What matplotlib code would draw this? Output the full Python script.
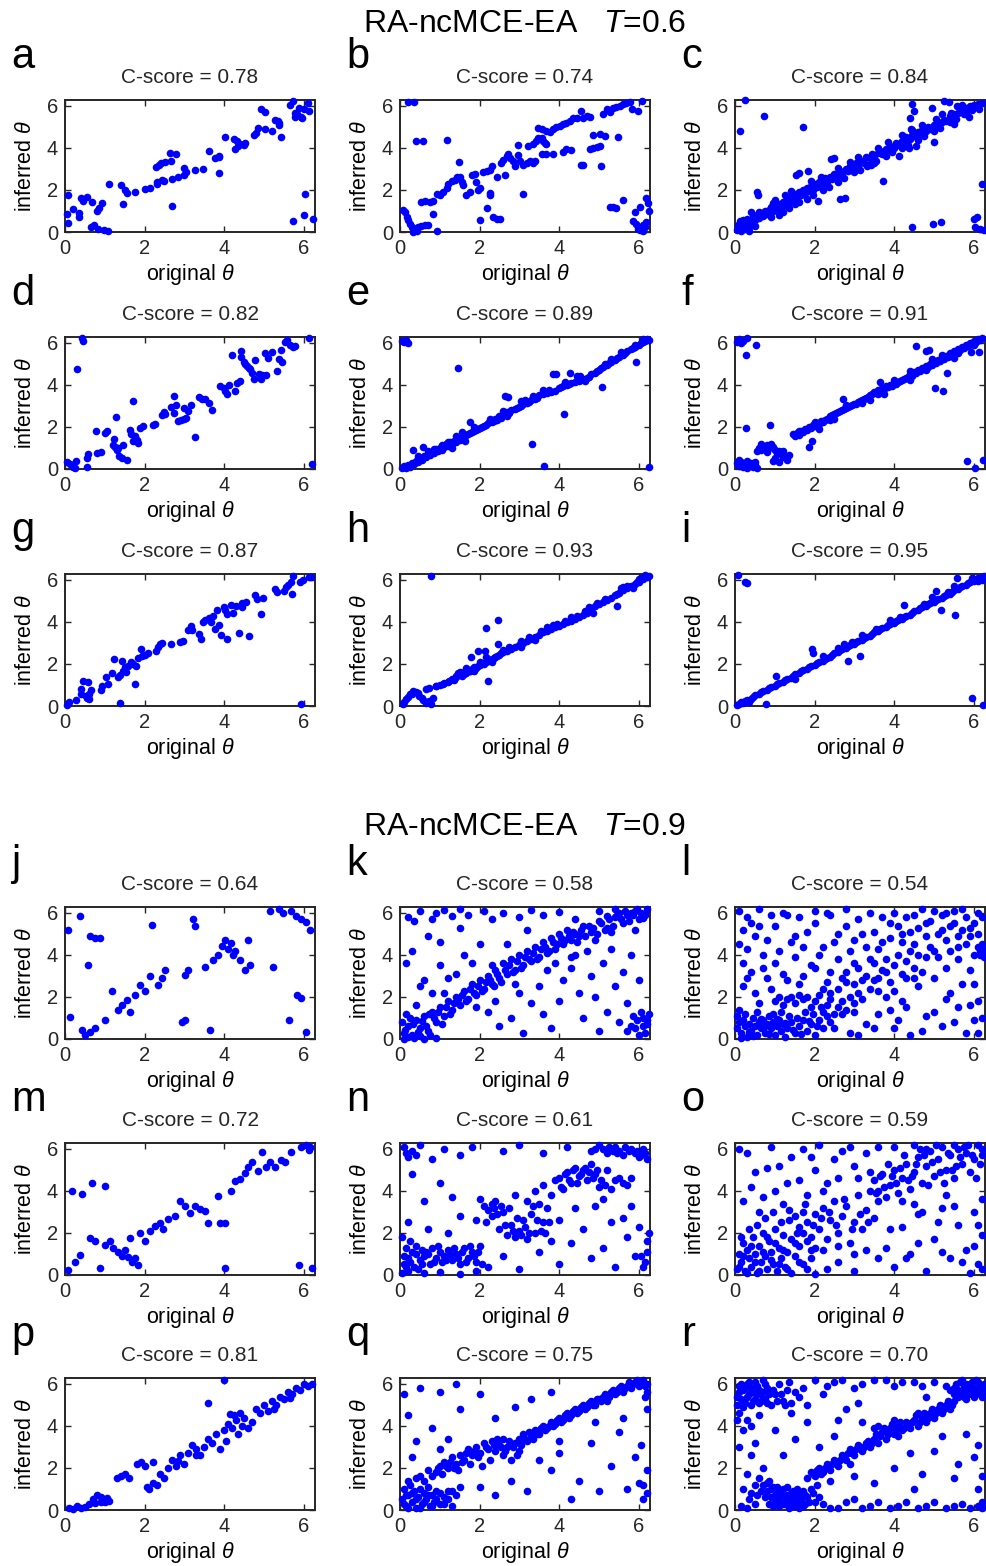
import matplotlib
matplotlib.use('Agg')
import numpy as np
import matplotlib.pyplot as plt

plt.rcParams['font.family'] = ['Liberation Sans', 'DejaVu Sans']
plt.rcParams['mathtext.fontset'] = 'custom'
plt.rcParams['mathtext.rm'] = 'Liberation Sans'
plt.rcParams['mathtext.it'] = 'Liberation Sans:italic'

# ---- data: (original theta, inferred theta) ----
pts_a = [(0.07,1.74),(0.06,0.86),(0.08,0.43),(0.21,1.10),(0.35,0.91),(0.34,0.70),(0.40,1.60),(0.44,1.47),
         (0.55,1.68),(0.69,1.42),(0.80,1.02),(0.86,1.15),(0.92,1.36),(0.65,0.22),(0.74,0.32),(0.84,0.16),
         (0.98,0.10),(1.09,0.03),(1.11,2.30),(1.41,2.24),(1.47,1.31),(1.51,2.00),(1.55,1.86),(1.76,1.92),
         (2.00,2.05),(2.14,2.11),(2.31,2.30),(2.31,2.38),(2.45,2.46),(2.48,2.42),(2.29,3.10),(2.35,3.20),
         (2.42,3.30),(2.52,3.31),(2.64,3.76),(2.67,3.38),(2.80,3.70),(2.70,2.54),(2.84,2.61),(2.70,1.23),
         (2.98,2.70),(3.00,3.04),(3.04,2.86),(3.26,2.94),(3.48,2.99),(3.63,3.84),(3.76,3.50),(3.86,3.57),
         (3.88,3.63),(3.86,2.80),(4.01,4.51),(4.24,4.43),(4.26,3.95),(4.32,4.32),(4.35,4.11),(4.40,4.19),
         (4.49,4.14),(4.53,4.24),(4.76,4.64),(4.80,4.70),(4.84,4.94),(5.03,4.91),(5.19,4.83),(4.92,5.84),
         (5.02,5.71),(5.29,5.31),(5.35,5.26),(5.39,5.07),(5.43,4.54),(5.39,5.18),(5.65,6.05),(5.72,6.22),
         (5.77,5.66),(5.79,5.47),(5.83,5.60),(5.96,5.41),(5.94,5.47),(5.89,5.90),(6.00,5.87),(6.10,6.14),
         (6.12,5.76),(6.04,1.81),(6.00,0.80),(5.74,0.54),(6.23,0.61)]

pts_b = [(0.21,6.20),(0.35,6.20),(0.40,4.33),(0.59,4.33),(1.17,4.36),(1.49,3.33),(0.07,1.04),(0.13,0.96),
         (0.17,0.72),(0.21,0.56),(0.25,0.40),(0.29,0.24),(0.33,0.16),(0.38,0.08),(0.46,0.24),(0.54,0.29),
         (0.63,0.32),(0.71,0.35),(0.33,0.00),(0.42,0.03),(0.92,0.03),(0.82,0.88),(0.54,1.41),(0.63,1.47),
         (0.75,1.44),(0.84,1.47),(0.92,1.83),(1.00,1.76),(1.09,1.92),(1.17,2.08),(1.21,2.28),(1.30,2.44),
         (1.38,2.48),(1.42,2.60),(1.51,2.64),(1.55,2.40),(1.59,2.24),(1.67,1.76),(1.76,1.92),(1.80,2.72),
         (1.88,2.76),(1.92,2.40),(1.97,2.00),(2.01,2.08),(2.09,2.85),(2.18,2.92),(2.26,2.96),(2.26,1.84),
         (2.26,1.76),(2.30,3.13),(2.43,2.64),(2.55,3.29),(2.59,3.45),(2.64,2.72),(2.68,3.61),(2.72,3.72),
         (2.76,3.53),(2.85,3.37),(2.89,3.13),(2.97,3.65),(3.01,3.37),(3.10,3.21),(3.18,3.29),(3.26,3.37),
         (3.35,3.29),(3.39,3.37),(2.97,4.13),(3.22,4.09),(3.35,4.17),(3.43,4.33),(3.47,4.49),(3.56,4.46),
         (3.60,4.33),(3.64,4.25),(3.68,4.20),(3.47,4.94),(3.56,4.89),(3.68,4.81),(3.77,4.78),(3.85,4.89),
         (3.93,5.00),(4.02,5.05),(4.10,5.13),(4.18,5.21),(4.27,5.29),(4.35,5.42),(4.44,5.45),(4.56,5.77),
         (4.60,5.45),(4.69,5.53),(4.77,5.48),(3.56,3.69),(3.68,3.69),(3.85,3.69),(4.10,3.81),(4.18,3.93),
         (4.31,3.88),(4.56,3.21),(4.60,3.17),(4.77,3.93),(4.85,4.01),(4.94,4.04),(5.02,4.09),(5.06,3.16),
         (4.85,4.62),(5.02,4.65),(5.15,4.58),(5.48,4.52),(5.10,5.64),(5.19,5.85),(5.27,5.69),(5.36,5.90),
         (5.44,5.96),(5.52,6.01),(5.61,6.09),(5.69,6.12),(5.77,6.17),(5.82,5.85),(5.98,5.74),(6.07,6.22),
         (3.10,1.83),(2.18,1.12),(2.01,0.56),(2.34,0.72),(2.43,0.64),(2.51,0.61),(5.27,1.20),(5.36,1.20),
         (5.44,1.12),(5.61,1.52),(5.90,0.93),(6.03,1.20),(6.19,1.63),(6.23,1.36),(6.26,0.99),(5.86,0.51),
         (5.94,0.40),(5.98,0.16),(6.03,0.08),(6.11,0.32),(6.15,0.24),(6.19,0.48),(6.11,0.03)]

pts_c = [(0.25,6.27),(0.12,4.80),(0.73,5.52),(1.71,4.99),(4.46,6.08),(4.50,5.76),(4.96,5.89),(4.39,5.44),
         (4.42,4.88),(5.00,4.29),(3.71,2.43),(2.63,1.57),(2.77,1.63),(2.08,1.47),(0.56,1.92),(0.58,1.76),
         (4.46,0.24),(4.98,0.40),(5.18,0.48),(6.00,0.64),(6.08,0.72),(6.04,0.24),(6.17,0.16),(6.25,0.08),
         (6.21,2.27),(2.42,3.49),(2.50,3.52),(1.83,2.91),(1.54,2.72),(1.62,2.80),(3.33,3.12),(3.42,3.17),
         (3.50,3.28),(4.12,3.60),(4.38,4.00),(4.54,4.08),(5.08,5.04),(5.50,5.12),(5.42,5.68),(5.75,5.60),
         (5.88,5.47),(6.12,5.84),(5.25,6.24),(5.37,6.20),(5.58,6.00),(5.71,6.05),
         (0.05,0.10),(0.10,0.20),(0.15,0.05),(0.20,0.30),(0.25,0.15),(0.30,0.40),(0.35,0.25),(0.08,0.35),
         (0.12,0.50),(0.20,0.55),(0.30,0.60),(0.40,0.50),(0.45,0.70),(0.50,0.55),(0.55,0.80),(0.60,0.65),
         (0.65,0.90),(0.70,0.75),(0.75,1.00),(0.80,0.85),(0.85,1.05),(0.90,1.20),(0.95,1.00),(1.00,1.25),
         (1.05,1.10),(1.10,1.35),(1.15,1.20),(1.20,1.45),(1.25,1.30),(1.30,1.60),(1.35,1.40),(1.40,1.70),
         (1.45,1.50),(1.50,1.80),(1.55,1.60),(1.60,1.90),(1.65,1.75),(1.70,2.00),(1.75,1.85),(1.80,2.10),
         (1.85,1.95),(1.90,2.20),(1.95,2.00),(2.00,2.30),(2.05,2.15),(2.10,2.40),(2.20,2.30),(2.25,2.55),
         (2.30,2.40),(2.40,2.60),(2.45,2.50),(2.50,2.75),(2.60,2.65),(2.65,2.90),(2.70,2.80),(2.80,3.00),
         (2.85,2.90),(2.90,3.15),(3.00,3.05),(3.05,3.30),(3.10,3.20),(3.20,3.40),(3.25,3.30),(3.30,3.55),
         (3.40,3.50),(3.45,3.70),(3.50,3.60),(3.60,3.75),(3.65,3.85),(3.70,3.70),(3.80,3.95),(3.85,3.90),
         (3.90,4.10),(4.00,4.00),(4.05,4.25),(4.10,4.15),(4.20,4.35),(4.25,4.30),(4.30,4.50),(4.40,4.45),
         (4.45,4.60),(4.50,4.55),(4.60,4.75),(4.65,4.65),(4.70,4.85),(4.80,4.80),(4.85,5.00),(4.90,4.90),
         (5.00,5.10),(5.05,5.05),(5.10,5.20),(5.20,5.25),(5.25,5.35),(5.30,5.30),(5.40,5.50),(5.45,5.45),
         (5.50,5.60),(5.60,5.65),(5.65,5.80),(5.70,5.75),(5.80,5.90),(5.85,5.85),(5.90,6.00),(6.00,6.05),
         (6.10,6.10),(6.20,6.15),(0.50,0.30),(0.90,0.70),(1.20,0.95),(1.50,1.35),(1.80,1.55),(2.20,2.00),
         (2.60,2.40),(3.00,2.85),(3.40,3.25),(3.80,3.60),(4.20,4.00),(4.60,4.40),(5.00,4.80),(5.40,5.25),
         (5.80,5.60),(1.00,1.50),(1.40,1.95),(1.90,2.45),(2.60,3.05),(3.10,3.55),(3.60,4.00),(4.20,4.60),
         (4.70,5.10),(5.20,5.60),(0.95,1.40),(1.25,1.75),(0.60,0.95),(0.40,0.95),(1.10,0.80),
         (1.35,1.15),(1.60,1.45),(1.95,1.75),(2.35,2.15),(2.75,2.55),(3.15,2.95),(3.55,3.40),(3.95,3.80),
         (4.35,4.15),(4.75,4.55),(5.15,4.95),(5.55,5.40),(5.95,5.80),(2.15,2.60),(2.90,3.35),(3.85,4.30),
         (4.45,4.85),(5.05,5.40),(0.15,0.35),(0.35,0.05),(0.25,0.45)]

pts_d = [(0.42,6.24),(0.44,6.08),(0.29,4.75),(0.06,0.35),(0.13,0.24),(0.21,0.11),(0.25,0.03),(0.27,0.38),
         (0.56,0.11),(0.56,0.54),(0.57,0.70),(0.80,0.75),(0.91,0.83),(0.77,1.82),(1.01,1.71),(1.05,1.79),
         (1.28,2.46),(1.24,1.44),(1.21,1.15),(1.26,1.07),(1.34,0.99),(1.30,0.91),(1.45,1.12),(1.36,0.64),
         (1.43,0.54),(1.55,0.43),(1.64,1.87),(1.66,1.66),(1.76,1.55),(1.80,1.39),(1.72,1.34),(1.83,1.23),
         (1.70,3.23),(1.89,1.95),(1.95,2.03),(2.22,2.08),(2.27,2.14),(2.43,2.56),(2.49,2.72),(2.52,2.62),
         (2.67,2.94),(2.74,3.47),(2.79,3.04),(2.73,2.67),(2.85,2.27),(2.92,2.35),(2.98,2.40),(3.04,2.43),
         (3.00,2.88),(3.10,2.75),(3.17,3.07),(3.37,3.42),(3.44,3.34),(3.51,3.31),(3.61,3.15),(3.69,2.83),
         (3.26,1.50),(3.90,3.95),(3.99,3.84),(4.03,3.71),(4.07,3.55),(4.11,3.98),(4.26,3.71),(4.32,4.11),
         (4.40,4.19),(4.19,5.44),(4.43,5.63),(4.43,5.34),(4.49,5.07),(4.53,4.99),(4.57,4.91),(4.62,4.83),
         (4.66,4.75),(4.70,4.59),(4.74,4.30),(4.77,5.18),(4.88,4.51),(4.92,4.27),(4.95,4.48),(5.03,5.50),
         (5.05,4.48),(5.09,5.30),(5.20,5.55),(5.33,4.67),(5.39,5.23),(5.45,5.07),(5.43,5.68),(5.52,6.03),
         (5.58,6.14),(5.66,5.92),(5.72,5.82),(5.77,5.87),(6.14,6.24),(6.21,0.24)]

pts_e = [(0.05,6.10),(0.10,6.05),(0.20,6.00),(0.15,6.15),(1.46,4.83),(3.33,1.20),(3.62,0.16),(4.12,2.62),
         (5.08,3.90),(5.94,5.07),(6.26,0.11),(3.85,4.54),(3.93,4.51),(4.27,4.59),(4.44,4.43),(4.52,4.43),
         (2.64,3.47),(2.72,3.44),(3.05,3.26),(3.35,3.47),(1.76,2.24),(1.30,0.99),(1.63,1.31),(0.33,0.91),
         (0.59,1.07),
         (0.05,0.05),(0.10,0.15),(0.15,0.05),(0.20,0.20),(0.25,0.10),(0.30,0.30),(0.35,0.25),(0.40,0.40),
         (0.45,0.35),(0.50,0.50),(0.55,0.45),(0.60,0.60),(0.65,0.55),(0.70,0.70),(0.75,0.65),(0.80,0.80),
         (0.85,0.75),(0.90,0.95),(0.95,0.85),(1.00,1.00),(1.05,1.15),(1.10,1.05),(1.15,1.20),(1.20,1.10),
         (1.25,1.30),(1.30,1.20),(1.35,1.35),(1.40,1.30),(1.45,1.45),(1.50,1.40),(1.55,1.50),(1.60,1.55),
         (1.65,1.60),(1.70,1.65),(1.75,1.70),(1.80,1.75),(1.85,1.80),(1.90,1.85),(1.95,1.90),(2.00,1.95),
         (2.05,2.00),(2.10,2.05),(2.15,2.10),(2.20,2.20),(2.30,2.25),(2.35,2.30),(2.40,2.40),(2.45,2.35),
         (2.50,2.50),(2.55,2.45),(2.60,2.55),(2.65,2.60),(2.70,2.70),(2.75,2.65),(2.80,2.80),(2.90,2.85),
         (2.95,2.90),(3.00,2.95),(3.05,3.00),(3.10,3.10),(3.20,3.15),(3.25,3.20),(3.30,3.30),(3.40,3.35),
         (3.45,3.40),(3.50,3.50),(3.60,3.55),(3.70,3.60),(3.80,3.65),(3.90,3.70),(4.00,3.85),(4.05,3.90),
         (4.10,3.95),(4.20,4.00),(4.25,4.05),(4.30,4.10),(4.40,4.15),(4.50,4.20),(4.55,4.25),(4.60,4.30),
         (4.70,4.35),(4.75,4.40),(4.80,4.50),(4.90,4.55),(4.95,4.65),(5.00,4.70),(5.05,4.80),(5.10,4.85),
         (5.20,4.95),(5.25,5.05),(5.30,5.10),(5.40,5.20),(5.45,5.30),(5.50,5.35),(5.60,5.45),(5.65,5.50),
         (5.70,5.60),(5.80,5.70),(5.85,5.75),(5.90,5.80),(6.00,5.90),(6.05,6.00),(6.10,6.05),(6.15,6.10),
         (6.20,6.20),(6.25,6.15),(0.70,0.85),(1.20,1.30),(1.55,1.75),(2.60,2.75),(3.60,3.75),(4.50,4.35),
         (5.30,5.25),(5.90,5.90),(0.45,0.60),(0.85,0.95),(1.05,0.90),(1.40,1.55),(1.85,2.00),(2.25,2.40),
         (2.70,2.50),(3.15,3.30),(3.75,3.75),(4.15,4.15),(4.65,4.20),(5.15,5.00),(5.55,5.55),(6.10,6.20)]

pts_f = [(0.05,6.05),(0.10,6.20),(0.20,6.10),(0.30,6.25),(0.15,6.00),(0.28,5.44),(0.54,5.90),(0.27,1.95),
         (0.88,2.11),(4.54,5.87),(4.79,5.60),(4.88,5.66),(5.03,3.87),(5.23,3.71),(5.33,4.59),(5.83,0.38),
         (6.04,0.03),(6.23,0.43),(2.71,3.31),(1.85,1.07),(1.93,1.31),(5.92,5.55),(6.12,5.55),
         (0.05,0.30),(0.10,0.15),(0.15,0.35),(0.20,0.10),(0.25,0.25),(0.30,0.05),(0.35,0.20),(0.40,0.30),
         (0.45,0.10),(0.50,0.20),(0.55,0.05),(0.10,0.45),(0.30,0.40),(0.50,0.35),
         (0.55,0.85),(0.60,1.00),(0.65,0.90),(0.70,1.10),(0.75,0.95),(0.80,1.15),(0.85,1.00),(0.90,1.20),
         (0.95,1.05),(1.00,0.90),(1.05,0.75),(1.10,0.85),(1.15,0.70),(1.20,0.55),(1.25,0.60),(1.30,0.45),
         (1.35,0.65),(1.00,0.50),(0.95,0.40),(1.10,0.35),
         (1.45,1.65),(1.50,1.55),(1.55,1.70),(1.60,1.60),(1.65,1.80),(1.70,1.75),(1.75,1.90),(1.80,1.85),
         (1.85,2.00),(1.90,1.95),(1.95,2.10),(2.00,2.05),(2.05,2.20),(2.10,2.15),(2.15,2.30),(2.20,2.25),
         (2.25,2.35),(2.30,2.40),(2.35,2.45),(2.40,2.50),(2.45,2.55),(2.50,2.60),(2.55,2.65),(2.60,2.70),
         (2.65,2.75),(2.70,2.80),(2.75,2.85),(2.80,2.90),(2.85,2.95),(2.90,3.00),(2.95,3.05),(3.00,3.10),
         (3.05,3.10),(3.10,3.20),(3.15,3.25),(3.20,3.30),(3.25,3.35),(3.30,3.40),(3.35,3.45),(3.40,3.50),
         (3.45,3.55),(3.50,3.65),(3.55,3.60),(3.60,3.75),(3.65,3.70),(3.70,3.85),(3.75,3.80),(3.80,3.95),
         (3.85,3.90),(3.90,4.00),(3.95,3.95),(4.00,4.10),(4.05,4.05),(4.10,4.15),(4.15,4.20),(4.20,4.25),
         (4.25,4.30),(4.30,4.35),(4.35,4.40),(4.40,4.50),(4.45,4.45),(4.50,4.60),(4.55,4.55),(4.60,4.70),
         (4.65,4.65),(4.70,4.80),(4.75,4.75),(4.80,4.90),(4.85,4.85),(4.90,5.00),(4.95,4.95),(5.00,5.10),
         (5.05,5.05),(5.10,5.20),(5.15,5.15),(5.20,5.30),(5.25,5.25),(5.30,5.40),(5.35,5.35),(5.40,5.50),
         (5.45,5.45),(5.50,5.60),(5.55,5.55),(5.60,5.70),(5.65,5.65),(5.70,5.80),(5.75,5.75),(5.80,5.90),
         (5.85,5.85),(5.90,6.00),(5.95,5.95),(6.00,6.10),(6.05,6.05),(6.10,6.20),(6.15,6.15),(6.20,6.25),
         (3.65,4.15),(3.75,3.55),(2.10,1.90),(2.50,2.40),(3.40,3.30),(4.40,4.25),(5.50,5.30),(4.95,5.25),
         (1.60,1.80),(2.00,2.25),(2.40,2.35),(2.80,3.05),(3.20,3.15),(3.60,3.55),(4.00,4.25),(4.40,4.65),
         (4.80,4.70),(5.20,5.45),(5.60,5.50),(6.00,5.90),(0.65,1.20),(0.80,0.80),(1.20,0.85)]

pts_g = [(0.05,0.05),(0.11,0.21),(0.28,0.27),(0.39,0.80),(0.40,0.59),(0.45,1.20),(0.53,0.48),(0.55,0.37),
         (0.57,1.12),(0.61,0.56),(0.61,0.32),(0.66,0.75),(0.91,0.75),(0.93,0.96),(1.03,1.36),(1.07,1.04),
         (1.18,1.55),(1.24,2.24),(1.33,1.36),(1.37,0.16),(1.39,1.49),(1.44,2.16),(1.45,1.68),(1.50,1.84),
         (1.54,1.60),(1.58,1.92),(1.65,2.08),(1.71,2.00),(1.75,1.07),(1.79,1.92),(1.83,2.29),(1.90,2.72),
         (1.93,2.40),(2.02,2.45),(2.08,2.51),(2.29,2.64),(2.34,2.80),(2.40,2.96),(2.44,2.99),(2.66,2.93),
         (2.88,3.04),(2.97,3.09),(3.08,3.60),(3.16,3.79),(3.18,3.60),(3.36,3.44),(3.41,3.20),(3.47,4.00),
         (3.53,4.08),(3.61,4.21),(3.68,4.00),(3.72,4.27),(3.76,3.68),(3.81,4.56),(3.87,3.84),(3.92,3.36),
         (4.00,4.69),(4.03,4.56),(4.06,4.37),(4.08,3.20),(4.17,4.80),(4.23,4.45),(4.31,4.75),(4.37,3.47),
         (4.44,4.88),(4.46,4.69),(4.54,4.96),(4.62,3.31),(4.77,5.28),(4.82,5.07),(4.92,4.37),(4.98,5.12),
         (5.28,5.55),(5.34,5.44),(5.51,5.49),(5.55,5.68),(5.61,5.76),(5.68,5.92),(5.71,5.33),(5.74,6.19),
         (5.91,5.92),(5.99,6.00),(6.12,6.13),(6.18,6.16),(5.93,0.08)]

pts_h = [(0.07,0.08),(0.15,0.32),(0.24,0.59),(0.32,0.72),(0.40,0.69),(0.49,0.48),(0.57,0.27),(0.66,0.16),
         (0.74,0.24),(0.78,0.11),(0.82,0.40),(0.66,0.80),(0.74,0.85),(0.91,0.96),(1.08,1.04),(1.24,1.20),
         (1.41,1.44),(1.50,1.60),(1.62,1.52),(1.75,1.68),(1.79,2.32),(1.96,2.64),(2.13,2.64),(2.17,2.32),
         (2.21,1.20),(2.17,3.71),(2.46,4.08),(2.46,2.93),(0.78,6.19),(5.45,4.75),(3.05,2.83),
         (0.10,0.20),(0.20,0.45),(0.30,0.55),(0.45,0.60),(0.55,0.40),(0.90,0.95),(1.00,1.00),(1.10,1.10),
         (1.20,1.15),(1.30,1.30),(1.35,1.25),(1.40,1.40),(1.50,1.50),(1.55,1.45),(1.60,1.60),(1.65,1.55),
         (1.70,1.70),(1.75,1.65),(1.80,1.75),(1.85,1.85),(1.90,1.80),(1.95,1.90),(2.00,1.95),(2.05,2.05),
         (2.10,2.00),(2.15,2.10),(2.20,2.15),(2.25,2.20),(2.30,2.25),(2.35,2.30),(2.40,2.35),(2.45,2.40),
         (2.50,2.45),(2.55,2.50),(2.60,2.55),(2.70,2.60),(2.80,2.70),(2.90,2.80),(3.00,2.90),(3.10,3.00),
         (3.20,3.10),(3.30,3.20),(3.40,3.30),(3.50,3.40),(3.60,3.50),(3.70,3.55),(3.80,3.65),(3.90,3.75),
         (4.00,3.80),(4.10,3.90),(4.20,4.00),(4.30,4.05),(4.40,4.15),(4.50,4.25),(4.60,4.35),(4.70,4.45),
         (4.80,4.60),(4.90,4.75),(5.00,4.85),(5.10,4.95),(5.20,5.05),(5.30,5.15),(5.40,5.30),(5.50,5.40),
         (5.60,5.50),(5.70,5.60),(5.80,5.70),(5.90,5.80),(6.00,5.90),(6.10,6.05),(6.20,6.15),(6.25,6.20),
         (2.00,2.10),(2.60,2.65),(3.05,3.10),(3.55,3.55),(3.95,3.90),(4.45,4.30),(4.95,4.90),(5.45,5.35),
         (5.95,5.90),(1.85,1.65),(2.30,2.10),(3.40,3.15),(4.30,4.25),(5.60,5.65),(5.85,5.60),(5.70,5.70),
         (1.45,1.55),(1.65,1.80),(3.70,3.75),(4.75,4.70),(4.85,4.45),(6.15,6.25),(6.05,6.10),
         (2.75,2.80),(3.25,3.30),(3.85,3.85),(4.15,4.05),(4.65,4.50),(5.15,5.10),(5.55,5.60),(6.00,6.05)]

pts_i = [(0.07,6.24),(0.25,5.92),(0.29,5.84),(0.79,0.08),(1.04,1.44),(1.94,2.72),(1.96,2.51),(3.15,2.40),
         (2.83,2.16),(4.25,4.80),(5.18,4.59),(5.54,4.35),(5.04,5.49),(5.58,6.08),(5.96,0.40),(6.23,0.05),
         (0.05,0.05),(0.10,0.10),(0.15,0.20),(0.20,0.15),(0.25,0.25),(0.30,0.30),(0.40,0.35),(0.45,0.45),
         (0.50,0.50),(0.60,0.55),(0.65,0.65),(0.70,0.70),(0.80,0.75),(0.85,0.85),(0.90,0.90),(1.00,0.95),
         (1.05,1.05),(1.10,1.10),(1.20,1.15),(1.25,1.25),(1.30,1.30),(1.40,1.35),(1.45,1.45),(1.50,1.50),
         (1.60,1.55),(1.65,1.65),(1.70,1.70),(1.80,1.75),(1.85,1.85),(1.90,1.90),(2.00,1.95),(2.05,2.05),
         (2.10,2.10),(2.20,2.15),(2.25,2.25),(2.30,2.30),(2.40,2.35),(2.45,2.45),(2.50,2.50),(2.60,2.55),
         (2.65,2.65),(2.70,2.70),(2.80,2.75),(2.85,2.85),(2.90,2.90),(3.00,2.95),(3.05,3.05),(3.10,3.10),
         (3.20,3.15),(3.25,3.25),(3.30,3.30),(3.40,3.35),(3.45,3.45),(3.50,3.50),(3.60,3.55),(3.65,3.65),
         (3.70,3.70),(3.80,3.75),(3.85,3.85),(3.90,3.90),(4.00,3.95),(4.05,4.05),(4.10,4.10),(4.20,4.15),
         (4.25,4.25),(4.30,4.30),(4.40,4.35),(4.45,4.45),(4.50,4.50),(4.60,4.55),(4.65,4.65),(4.70,4.70),
         (4.80,4.75),(4.85,4.85),(4.90,4.90),(5.00,4.95),(5.05,5.05),(5.10,5.10),(5.20,5.15),(5.25,5.25),
         (5.30,5.30),(5.40,5.35),(5.45,5.45),(5.50,5.50),(5.60,5.55),(5.65,5.65),(5.70,5.70),(5.80,5.75),
         (5.85,5.85),(5.90,5.90),(6.00,5.95),(6.05,6.05),(6.10,6.10),(6.20,6.15),(6.25,6.20),(2.60,2.75),
         (2.75,2.95),(2.20,2.40),(3.90,4.10),(4.95,5.20),(5.50,5.70),(1.50,1.30),(3.20,3.40),(6.10,5.95),
         (6.20,6.00),(5.95,6.10),(0.35,0.20),(2.95,3.05),(3.55,3.65),(4.15,4.25),(4.75,4.85),(5.35,5.45)]

pts_j = [(0.08,5.20),(0.38,5.87),(0.58,3.50),(0.63,4.90),(0.76,4.80),(0.88,4.80),(0.13,1.04),(0.43,0.43),
         (0.50,0.20),(0.63,0.33),(0.76,0.52),(1.00,0.90),(1.18,2.30),(1.33,1.37),(1.44,1.60),(1.56,1.85),
         (1.64,1.28),(1.76,2.08),(1.89,2.56),(2.00,2.30),(2.14,3.00),(2.19,5.45),(2.34,2.56),(2.44,2.90),
         (2.52,3.27),(2.95,0.80),(3.02,3.03),(3.10,3.27),(3.22,5.73),(3.27,5.40),(3.02,0.90),(3.53,3.45),
         (3.65,0.43),(3.73,3.74),(3.85,3.98),(3.95,4.45),(4.03,4.70),(4.10,4.30),(4.16,4.55),(4.23,3.98),
         (4.28,4.20),(4.41,3.74),(4.53,3.27),(4.60,4.70),(4.66,3.50),(5.24,3.45),(5.16,6.11),(5.37,6.20),
         (5.49,6.02),(5.67,6.11),(5.80,5.87),(5.92,5.73),(6.05,5.55),(6.17,5.17),(5.82,2.08),(5.92,1.94),
         (5.62,0.90),(6.05,0.33)]

pts_k = [(0.20,5.80),(0.35,5.60),(0.50,6.10),(0.80,5.70),(0.90,6.00),(1.10,6.15),(1.30,5.85),(1.50,6.20),
         (1.70,5.90),(2.10,6.10),(2.30,5.70),(2.60,6.00),(3.00,5.80),(3.30,6.15),(3.60,5.90),(4.00,6.05),
         (4.40,5.70),(5.00,6.10),(5.20,5.85),(5.40,6.20),(5.50,6.00),(5.70,5.90),(5.90,6.10),(6.10,5.75),
         (6.20,6.20),(0.70,4.90),(1.00,4.60),(0.30,4.20),(0.15,3.60),(0.60,2.80),
         (0.10,0.30),(0.20,0.60),(0.30,0.20),(0.40,0.90),(0.50,0.50),(0.60,1.10),(0.70,0.40),(0.80,1.30),
         (0.90,0.80),(1.00,1.50),(1.10,1.10),(1.20,1.80),(1.30,1.40),(1.40,2.00),(1.50,1.60),(1.60,2.30),
         (1.70,1.90),(1.80,2.60),(1.90,2.10),(2.00,2.80),(2.10,2.40),(2.20,3.00),(2.30,2.60),(2.40,3.30),
         (2.50,2.90),(2.60,3.60),(2.70,3.10),(2.80,3.80),(2.90,3.30),(3.00,4.00),(3.10,3.50),(3.20,4.20),
         (3.30,3.70),(3.40,4.40),(3.50,3.90),(3.60,4.60),(3.70,4.10),(3.80,4.80),(3.90,4.30),(4.00,5.00),
         (4.10,4.50),(4.20,5.20),(4.30,4.70),(4.40,5.00),(4.50,4.90),(4.60,5.40),(4.80,5.10),(5.00,5.60),
         (5.20,5.30),(5.40,5.80),(5.60,5.50),(5.80,6.00),(6.00,5.70),
         (0.10,0.00),(0.20,0.10),(0.35,0.05),(0.50,0.15),(0.60,0.00),(0.75,0.20),(0.90,0.05),(0.15,1.20),
         (0.40,1.60),(0.50,2.50),(0.80,2.20),(1.20,2.90),(1.00,3.50),(1.40,3.10),(1.60,4.00),(1.80,3.60),
         (2.00,4.50),(2.20,1.30),(2.40,1.80),(2.50,0.60),(2.80,1.00),(3.00,2.20),(3.10,0.30),(3.30,1.70),
         (3.50,2.50),(3.60,1.20),(3.80,0.50),(4.00,1.80),(4.10,2.80),(4.30,3.40),(4.50,2.20),(4.60,1.00),
         (4.80,3.00),(4.90,2.00),(5.00,0.40),(5.10,3.60),(5.20,1.30),(5.30,4.30),(5.40,2.50),(5.50,0.80),
         (5.60,3.20),(5.70,1.70),(5.80,4.00),(5.90,0.50),(6.00,2.80),(6.10,1.00),(6.20,0.70),(6.15,0.30),
         (6.05,1.30),(5.95,0.90),(5.80,0.60),(5.30,5.10),(4.70,4.20),(5.90,5.20),(4.90,4.70),(2.70,4.50),
         (3.20,5.20),(1.50,5.30),(3.90,3.60),(4.30,3.90),
         (0.05,0.80),(0.12,0.45),(0.25,1.00),(0.33,0.70),(0.45,0.35),(0.55,0.85),(0.65,0.60),(0.72,1.20),
         (0.85,1.00),(0.95,1.30),(1.05,0.70),(1.15,1.50),(1.25,1.20),(1.35,1.70),(1.45,1.90),(1.55,2.10),
         (1.65,1.80),(1.75,2.40),(1.85,2.20),(1.95,2.50),(2.05,2.30),(2.15,2.70),(2.25,2.80),(2.35,2.50),
         (2.45,3.10),(2.55,2.70),(2.65,3.30),(2.75,3.50),(2.85,3.20),(2.95,3.70),(3.05,3.40),(3.15,3.90),
         (3.25,3.80),(3.35,4.10),(3.45,3.80),(3.55,4.30),(3.65,4.40),(3.75,4.20),(3.85,4.60),(3.95,4.50),
         (4.05,4.80),(4.15,4.70),(4.25,4.90),(4.35,5.10),(4.45,4.60),(4.55,5.20),(4.65,4.90),(4.75,5.40),
         (4.85,5.30),(4.95,5.00),(5.05,5.50),(5.15,5.20),(5.25,5.70),(5.35,5.40),(5.45,5.90),(5.55,5.70),
         (5.65,6.10),(5.75,5.60),(5.85,5.90),(5.95,6.20),(6.05,6.00),(6.15,5.90),(6.20,0.90),(6.10,0.60),
         (6.00,0.20),(5.85,1.10),(5.70,0.40),(6.25,1.20),(2.30,3.50),(1.10,2.20),(3.70,3.30),(2.90,2.60),
         (4.40,4.00),(1.90,1.50)]

pts_l = [(0.05,0.50),(0.10,0.80),(0.15,0.30),(0.20,0.90),(0.25,0.60),(0.30,0.10),(0.35,0.70),(0.40,0.40),
         (0.45,1.00),(0.50,0.60),(0.55,0.20),(0.60,0.80),(0.65,0.50),(0.70,0.90),(0.75,0.30),(0.80,0.70),
         (0.85,1.10),(0.90,0.50),(0.95,0.80),(1.00,0.20),(1.05,0.60),(1.10,0.90),(1.15,0.40),(1.20,0.70),
         (1.25,0.10),(1.30,0.50),(1.40,0.80),(1.50,0.30),(1.60,0.60),(1.70,0.90),(1.80,0.40),(1.90,0.70),
         (2.00,0.20),(2.10,0.90),(2.20,0.50),(2.40,0.80),
         (1.00,1.80),(1.10,2.00),(1.20,1.60),(1.30,1.90),(1.40,2.00),(1.50,1.70),(1.60,2.10),(1.70,1.90),
         (1.80,2.00),(1.90,1.50),(2.00,1.80),(2.10,2.10),(2.20,1.30),(2.30,1.60),(2.40,1.90),(2.50,1.20),
         (2.60,1.50),(2.70,1.80),(2.80,1.40),(2.90,2.00),(3.00,1.70),(3.10,2.20),(3.20,1.90),
         (2.60,2.40),(2.80,3.20),(3.00,2.60),(3.10,3.40),(3.20,2.80),(3.30,3.00),(3.40,2.40),(3.50,3.60),
         (3.60,2.90),(3.70,3.30),(3.80,3.80),(3.90,2.70),(4.00,3.50),(4.10,4.00),(4.20,3.10),(4.30,3.70),
         (4.40,4.20),(4.50,3.40),
         (3.50,5.10),(3.70,4.60),(3.90,5.50),(4.00,6.00),(4.20,5.00),(4.30,5.80),(4.50,4.50),(4.60,5.30),
         (4.70,6.20),(4.80,4.90),(4.90,5.60),(5.00,4.20),(5.10,5.00),(5.20,5.90),(5.30,4.70),(5.40,5.40),
         (5.50,6.10),(5.60,4.40),(5.70,5.20),(5.80,5.80),(5.90,4.90),(6.00,5.50),(6.10,6.00),(6.15,4.20),
         (6.20,4.30),(6.25,4.10),(6.10,4.40),(5.60,3.80),(5.30,3.40),(4.80,3.90),
         (0.10,6.10),(0.30,5.80),(0.60,6.20),(0.90,5.90),(1.20,6.00),(1.60,5.80),(2.00,6.10),(2.40,5.90),
         (2.80,6.20),(3.10,5.70),(3.40,6.00),(0.20,5.20),(0.50,4.90),(0.30,4.30),(0.70,4.00),(0.10,4.50),
         (1.00,5.40),(1.40,4.60),(1.80,5.10),(2.20,4.40),(2.60,5.00),(3.00,4.70),
         (0.20,2.50),(0.40,3.20),(0.60,1.70),(0.80,2.90),(1.00,3.60),(1.30,2.80),(1.50,3.90),(1.70,3.00),
         (2.00,3.40),(2.30,2.70),(2.60,3.80),(0.10,1.40),(0.50,2.20),(3.60,1.20),(4.00,0.50),(4.20,1.80),
         (4.40,0.20),(4.60,2.50),(4.80,1.10),(5.00,2.90),(5.20,0.60),(5.40,2.20),(5.60,1.50),(5.80,0.30),
         (6.00,2.60),(6.20,1.00),(3.80,2.00),(3.30,0.70),(2.90,0.30),(5.90,3.30),(4.50,2.90),(6.10,1.80),
         (0.05,1.10),(0.15,0.05),(0.25,1.20),(0.35,0.35),(0.45,0.15),(0.55,1.30),(0.65,0.95),(0.75,0.60),
         (0.85,0.25),(0.95,1.20),(1.05,0.95),(1.15,1.30),(1.25,0.75),(1.35,1.10),(1.45,0.45),(1.55,1.00),
         (1.65,0.25),(1.75,1.30),(1.85,0.85),(1.95,1.20),(2.05,0.60),(2.15,1.50),(2.30,1.10),(2.50,0.50),
         (2.70,1.20),(0.20,3.60),(0.30,2.90),(0.40,5.50),(0.60,5.40),(0.70,3.40),(0.80,4.70),(0.90,2.40),
         (1.10,4.20),(1.20,3.10),(1.30,5.90),(1.50,4.90),(1.60,2.60),(1.70,4.40),(1.90,3.50),(2.00,5.50),
         (2.10,4.00),(2.30,6.00),(2.40,3.20),(2.50,4.60),(2.70,2.90),(2.80,5.40),(2.90,4.20),(3.00,3.60),
         (3.20,5.00),(3.30,4.40),(3.40,3.80),(3.50,2.80),(3.60,4.30),(3.70,5.80),(3.80,3.20),(3.90,4.80),
         (4.00,2.30),(4.10,5.40),(4.20,4.60),(4.30,2.90),(4.40,5.10),(4.50,5.90),(4.60,4.00),(4.70,3.20),
         (4.80,5.50),(4.90,4.40),(5.00,6.10),(5.10,3.90),(5.20,5.20),(5.30,6.00),(5.40,4.20),(5.50,5.50),
         (5.60,4.90),(5.70,6.20),(5.80,4.50),(5.90,5.30),(6.00,4.00),(6.10,5.00),(6.20,5.80),(6.20,4.50),
         (6.15,4.00),(6.25,3.90),(3.10,0.20),(3.50,0.50),(3.90,1.40),(4.10,0.90),(4.30,1.50),(4.70,0.40),
         (5.00,1.30),(5.30,1.90),(5.50,0.80),(5.70,2.60),(5.90,1.60),(6.10,0.30),(6.00,0.90),(2.20,2.40),
         (2.40,2.20),(2.80,2.70),(3.60,2.30),(3.00,1.30)]

pts_m = [(0.18,4.00),(0.43,3.85),(0.68,4.37),(1.00,4.23),(0.08,0.23),(0.25,0.60),(0.38,0.94),(0.63,1.74),
         (0.76,1.64),(0.88,0.33),(1.00,1.41),(1.13,1.64),(1.21,1.27),(1.33,1.08),(1.44,0.89),(1.51,1.17),
         (1.59,0.84),(1.69,0.61),(1.76,0.80),(1.84,0.47),(1.64,1.78),(1.89,2.02),(2.02,1.64),(2.14,2.11),
         (2.27,2.35),(2.39,2.49),(2.47,2.21),(2.59,2.68),(2.77,2.82),(2.90,3.52),(3.02,3.29),(3.15,2.96),
         (3.27,3.29),(3.40,3.15),(3.53,3.05),(3.60,2.49),(3.85,3.76),(3.90,2.49),(4.03,2.49),(4.03,0.33),
         (4.16,3.99),(4.28,4.46),(4.41,4.55),(4.53,4.84),(4.60,5.16),(4.71,5.40),(4.86,4.93),(4.96,5.87),
         (5.04,5.16),(5.16,5.40),(5.29,5.16),(5.42,5.49),(5.54,5.40),(5.67,5.87),(5.87,0.47),(5.92,6.10),
         (6.05,6.20),(6.12,5.96),(6.17,6.10),(6.22,0.33)]

pts_n = [(0.05,0.10),(0.10,0.50),(0.15,1.30),(0.20,0.80),(0.30,1.10),(0.35,0.40),(0.40,1.40),(0.50,0.70),
         (0.55,1.20),(0.60,0.90),(0.70,1.00),(0.75,0.50),(0.80,1.30),(0.90,0.80),(1.00,1.10),(1.05,0.60),
         (1.10,0.90),(1.20,1.20),(1.30,0.70),(1.40,1.00),(1.50,0.50),(1.60,1.30),(1.70,0.80),(1.80,1.10),
         (1.90,0.60),(2.00,1.40),(0.20,0.20),(0.60,0.10),(1.00,0.15),(1.50,0.05),(1.90,0.20),(0.25,1.60),
         (0.05,1.80),
         (1.90,2.60),(2.10,3.30),(2.20,3.10),(2.30,2.80),(2.40,3.50),(2.50,2.20),(2.60,3.00),(2.70,1.90),
         (2.80,2.40),(2.90,1.80),(3.00,2.10),(3.10,2.60),(3.20,1.70),(3.30,2.90),(3.40,2.00),(3.50,3.40),
         (3.60,2.50),(3.70,3.20),(3.80,1.60),(2.00,3.60),(2.30,3.40),(2.90,3.80),(3.20,3.50),
         (3.40,4.00),(3.60,4.30),(3.80,3.80),(4.00,4.60),(4.10,4.10),(4.20,4.90),(4.30,4.40),(4.40,5.10),
         (4.50,4.70),(4.60,5.00),(4.70,4.50),(4.80,5.30),(4.90,4.80),(5.00,4.20),(5.20,5.00),(5.40,4.50),
         (5.60,4.40),(5.80,4.60),(4.40,3.20),(4.90,3.30),(5.10,3.60),(5.30,2.50),(5.60,2.70),
         (0.10,6.10),(0.20,5.60),(0.30,5.90),(0.50,6.20),(0.80,5.50),(1.10,6.00),(1.50,5.70),(1.80,6.10),
         (2.60,5.90),(3.00,6.20),(3.60,5.80),(4.20,6.10),(4.80,5.90),(5.00,6.20),(5.10,6.00),(5.20,5.80),
         (5.40,6.10),(5.50,5.90),(5.60,5.70),(5.80,6.00),(5.90,5.80),(6.00,5.60),(6.10,6.00),(6.20,5.50),
         (1.00,4.40),(0.60,3.50),(1.30,3.70),(0.30,4.80),
         (0.20,2.50),(0.70,2.20),(1.20,2.00),(1.50,2.80),(2.20,0.40),(2.60,0.90),(3.00,0.30),(3.50,1.10),
         (4.00,0.50),(4.30,1.50),(4.60,2.20),(4.80,0.80),(5.10,1.30),(5.40,0.40),(5.70,1.80),(5.90,0.90),
         (6.10,0.40),(6.20,1.60),(6.00,2.30),(5.80,3.30),(4.00,2.60),
         (0.10,0.90),(0.25,0.60),(0.40,1.00),(0.45,0.30),(0.65,1.10),(0.85,0.60),(0.95,1.40),(1.15,0.70),
         (1.25,1.00),(1.35,1.30),(1.45,0.80),(1.55,1.10),(1.65,0.60),(1.75,1.40),(1.85,0.90),(1.95,1.10),
         (2.05,0.50),(0.15,0.40),(0.55,0.50),(2.15,2.50),(2.35,3.20),(2.45,2.90),(2.55,3.30),(2.65,2.40),
         (2.75,3.20),(2.85,2.10),(2.95,2.70),(3.05,1.90),(3.15,2.30),(3.25,2.00),(3.35,3.30),(3.45,2.60),
         (3.55,2.10),(3.65,2.00),(3.75,2.50),(3.90,4.50),(4.05,4.20),(4.15,4.80),(4.25,4.50),(4.35,5.00),
         (4.45,4.40),(4.55,4.80),(4.65,5.10),(4.75,4.90),(4.85,4.60),(4.95,5.00),(5.05,4.50),(5.15,4.30),
         (5.30,4.10),(5.50,4.60),(5.70,4.30),(5.45,5.80),(5.65,6.10),(5.75,5.90),(5.95,5.90),(6.05,5.70),
         (6.15,5.80),(5.35,5.90),(5.25,6.10),(4.90,6.00),(0.40,5.70),(0.15,5.80),(6.15,0.60),(6.20,1.10),
         (6.05,0.90),(6.25,2.00)]

pts_o = [(0.05,0.30),(0.10,1.00),(0.15,0.60),(0.20,1.50),(0.25,0.20),(0.30,1.20),(0.35,0.80),(0.40,0.40),
         (0.45,1.80),(0.50,1.00),(0.55,0.10),(0.60,1.40),(0.65,0.60),(0.70,2.00),(0.75,0.90),(0.80,0.30),
         (0.85,1.60),(0.90,1.10),(0.95,0.50),(1.00,2.20),(1.05,0.20),(1.10,1.30),(1.15,0.80),(1.20,1.90),
         (1.25,0.40),(1.30,1.10),(1.35,2.60),(1.40,0.10),(1.50,1.50),(1.60,0.60),(1.70,2.00),(1.80,0.30),
         (1.90,1.20),(2.00,0.05),
         (1.50,2.80),(1.60,2.30),(1.70,3.00),(1.80,2.50),(1.90,1.80),(2.00,2.90),(2.10,2.20),(2.20,3.20),
         (2.30,1.70),(2.40,2.60),(2.50,3.50),(2.60,2.00),(2.70,2.80),(2.80,3.30),(2.90,1.50),(3.00,2.50),
         (3.10,3.80),(3.20,2.20),(3.30,3.10),(3.40,4.00),(3.50,2.70),(3.60,3.50),(2.20,1.20),(2.60,1.40),
         (3.00,1.00),
         (3.50,4.50),(3.60,4.00),(3.70,4.80),(3.80,3.70),(3.90,4.30),(4.00,5.00),(4.10,3.90),(4.20,4.60),
         (4.30,5.30),(4.40,4.10),(4.50,4.90),(4.60,5.60),(4.70,4.40),(4.80,5.20),(4.90,5.90),(5.00,4.70),
         (5.10,5.50),(5.20,6.10),(5.30,5.00),(5.40,5.70),(5.50,4.60),(5.60,6.00),(5.70,5.30),(5.80,5.80),
         (5.90,4.90),(6.00,5.50),(6.10,6.20),(6.20,5.70),(4.00,6.10),(4.50,6.20),(4.80,6.00),(5.50,6.20),
         (3.30,5.80),(2.90,6.10),(3.10,4.60),
         (0.20,3.50),(0.40,4.20),(0.60,3.00),(0.80,5.10),(1.00,4.00),(1.20,3.40),(1.40,5.60),(1.60,4.50),
         (1.80,3.80),(2.00,5.00),(2.30,4.40),(2.50,5.50),(0.30,5.80),(0.90,6.10),(1.70,6.00),(2.10,6.20),
         (3.80,1.30),(4.00,0.40),(4.20,2.30),(4.40,1.00),(4.60,2.90),(4.80,0.20),(5.00,1.70),(5.20,3.20),
         (5.40,0.80),(5.60,2.40),(5.80,1.20),(6.00,3.00),(6.10,0.50),(6.20,1.90),(5.90,0.10),(4.50,3.40),
         (5.30,3.80),(3.60,0.80),
         (0.10,0.40),(0.20,0.90),(0.30,0.10),(0.40,1.40),(0.50,0.60),(0.60,0.20),(0.70,1.10),(0.80,1.80),
         (0.90,0.70),(1.00,1.50),(1.10,0.50),(1.20,1.20),(1.30,0.30),(1.40,1.70),(1.50,0.90),(1.60,1.40),
         (1.70,0.50),(1.80,1.60),(1.90,0.80),(2.00,1.30),(0.15,1.80),(0.35,2.20),(0.55,2.40),(0.75,2.70),
         (0.95,3.00),(1.15,2.50),(1.35,3.10),(1.55,2.00),(1.75,3.40),(1.95,2.40),(2.15,2.70),(2.35,3.00),
         (2.55,2.40),(2.75,3.60),(2.95,2.20),(3.15,2.90),(3.35,2.50),(3.55,3.90),(3.75,4.20),(3.95,4.70),
         (4.15,5.10),(4.35,4.50),(4.55,5.30),(4.75,5.70),(4.95,5.40),(5.15,4.90),(5.35,5.80),(5.55,5.20),
         (5.75,6.10),(5.95,5.70),(6.15,5.30),(6.20,6.00),(3.65,4.70),(3.85,5.30),(4.05,4.40),(4.25,5.70),
         (4.45,4.70),(4.65,6.00),(4.85,4.30),(5.05,6.20),(5.25,4.40),(5.45,5.00),(5.65,5.60),(5.85,6.20),
         (6.05,4.60),(2.20,4.00),(2.60,4.60),(3.00,5.20),(3.40,4.90),(0.50,4.90),(1.10,5.20),(1.90,5.60),
         (2.70,5.90),(3.60,6.10),(0.10,6.00),(1.30,4.40),(0.70,3.70),(4.20,3.50),(4.70,3.00),(5.10,2.50),
         (5.50,3.30),(5.70,0.60),(6.00,1.40),(6.20,0.30),(5.20,1.10),(4.60,1.50),(4.30,0.80),(3.90,2.20),
         (3.30,1.20),(2.60,0.60),(2.30,0.30),(3.00,0.20),(6.10,2.40),(6.20,3.60)]

pts_p = [(0.10,0.10),(0.20,0.05),(0.30,0.20),(0.40,0.10),(0.50,0.15),(0.60,0.30),(0.70,0.50),(0.75,0.35),
         (0.80,0.70),(0.90,0.60),(1.00,0.40),(1.05,0.55),(1.10,0.45),(1.40,1.60),(1.50,1.70),(1.60,1.50),
         (1.80,2.20),(1.90,2.30),(2.00,2.10),(2.05,1.10),(2.10,1.00),(2.20,1.30),(2.30,1.20),(2.40,1.70),
         (2.50,1.50),(2.60,2.00),(2.70,2.40),(2.80,2.10),(2.90,2.60),(3.00,2.20),(3.10,2.70),(3.20,3.10),
         (3.30,2.90),(3.40,2.60),(3.50,3.00),(3.60,3.40),(3.70,3.20),(3.80,3.60),(3.90,2.90),(4.00,3.80),
         (4.05,3.30),(4.10,4.10),(4.20,3.90),(4.25,4.50),(4.30,4.30),(4.35,3.60),(4.40,4.60),(4.50,4.40),
         (4.60,3.90),(4.70,4.20),(4.80,4.80),(4.90,4.60),(5.00,5.00),(5.10,4.70),(5.20,5.20),(5.30,5.00),
         (5.40,5.40),(5.50,5.30),(5.60,5.60),(5.70,5.50),(5.80,5.80),(5.90,5.70),(6.00,6.00),(6.10,5.90),
         (6.20,6.00),(4.00,6.20),(3.60,5.10),(2.20,2.30),(1.30,1.50),(0.90,0.40),(3.30,2.60),(4.15,4.55),
         (4.45,4.00),(2.85,2.35),(5.25,4.80),(5.65,5.35)]

pts_q = [(0.50,1.60),(0.70,1.90),(0.90,1.80),(1.00,2.10),(1.10,2.30),(1.20,2.00),(1.30,2.50),(1.40,2.20),
         (1.50,2.60),(1.60,2.40),(1.70,2.90),(1.80,2.60),(1.90,3.00),(2.00,2.70),(2.10,3.20),(2.20,2.90),
         (2.30,3.30),(2.40,2.80),(2.50,3.10),(2.60,2.60),(2.70,3.00),(2.80,2.40),(2.90,3.20),(3.00,3.40),
         (3.10,3.60),(3.20,3.30),(3.30,3.50),(3.40,3.80),(3.50,3.60),(3.60,4.00),(3.70,3.90),(3.80,4.20),
         (3.90,4.10),(4.00,4.40),(4.10,4.30),(4.20,4.60),(4.30,4.50),(4.40,4.80),(4.50,4.70),(4.60,5.00),
         (4.70,4.90),(4.80,5.20),(4.90,5.00),(5.00,5.30),(5.10,5.40),(5.20,5.20),(5.30,5.60),(5.40,5.50),
         (5.50,5.80),(5.60,5.60),(5.70,5.90),(5.80,5.80),(5.90,6.10),(6.00,5.90),(6.10,6.20),(6.20,6.00),
         (2.05,2.10),(2.25,2.40),(2.60,3.40),(3.00,2.80),(1.75,2.20),(1.45,1.90),
         (0.05,0.50),(0.10,1.00),(0.15,0.20),(0.20,0.70),(0.25,1.20),(0.30,0.40),(0.35,0.90),(0.40,0.10),
         (0.45,0.60),(0.50,1.00),(0.55,0.30),(0.60,0.80),(0.65,0.50),(0.70,1.10),(0.75,0.20),(0.80,0.70),
         (0.85,0.40),(0.90,0.90),(1.00,0.30),(1.10,0.60),(1.20,0.90),(1.30,0.20),(1.40,0.70),(1.50,1.10),
         (0.20,1.40),(0.40,1.50),
         (0.10,5.50),(0.50,5.80),(1.00,5.60),(1.40,6.00),(0.20,4.50),(0.40,3.30),(0.80,3.90),(1.20,3.40),
         (1.50,4.80),(2.00,5.50),(2.40,4.40),(2.90,4.90),(3.30,5.30),(3.80,5.60),(0.30,2.50),(1.00,2.90),
         (2.00,1.10),(2.40,0.70),(2.80,1.40),(3.20,0.90),(3.50,2.40),(3.80,1.90),(4.00,2.70),(4.30,0.50),
         (4.50,1.40),(4.80,3.20),(5.00,0.90),(5.30,2.10),(5.50,3.70),(5.70,1.00),(5.90,2.50),(6.00,1.30),
         (6.10,0.50),(6.20,1.90),(6.05,3.10),(5.60,4.40),(4.90,4.20),(6.20,4.80),(4.00,3.30),
         (0.60,1.40),(0.80,1.60),(0.95,2.00),(1.05,1.70),(1.15,2.10),(1.25,2.30),(1.35,2.00),(1.55,2.30),
         (1.65,2.70),(1.85,2.80),(1.95,2.50),(2.15,3.00),(2.35,3.10),(2.45,3.40),(2.55,3.00),(2.65,2.80),
         (2.75,3.30),(2.85,3.00),(2.95,2.60),(3.05,3.10),(3.15,3.40),(3.25,3.70),(3.35,3.40),(3.45,3.60),
         (3.55,3.90),(3.65,3.80),(3.75,4.00),(3.85,4.00),(3.95,4.30),(4.05,4.20),(4.15,4.50),(4.25,4.40),
         (4.35,4.70),(4.45,4.60),(4.55,4.90),(4.65,4.80),(4.75,5.10),(4.85,5.00),(4.95,5.30),(5.05,5.20),
         (5.15,5.50),(5.25,5.40),(5.35,5.70),(5.45,5.60),(5.55,5.90),(5.65,5.80),(5.75,6.10),(5.85,6.00),
         (5.95,6.20),(6.05,6.10),(6.15,5.90),(0.10,0.30),(0.20,0.10),(0.30,0.80),(0.40,0.50),(0.50,0.10),
         (0.60,0.40),(0.70,0.70),(0.80,0.20),(0.90,0.50),(1.00,0.80),(1.10,0.30),(1.20,0.50),(1.30,0.90),
         (0.15,0.70),(6.20,0.80),(6.10,1.20),(6.15,5.40),(6.20,5.60)]

pts_r = [(0.05,5.00),(0.10,5.60),(0.15,6.00),(0.20,5.20),(0.25,5.80),(0.30,5.40),(0.35,6.10),(0.40,5.00),
         (0.45,5.60),(0.50,5.30),(0.55,5.90),(0.60,5.10),(0.65,5.50),(0.70,6.20),(0.75,5.30),(0.80,5.80),
         (0.90,5.00),(1.00,5.50),(1.10,6.00),(1.20,5.20),(1.30,5.70),(1.40,5.10),(1.60,5.40),(1.80,5.00),
         (0.10,4.60),(0.30,4.30),(0.60,4.50),(0.20,3.80),(0.50,3.20),(0.10,3.00),(0.40,2.60),(0.70,2.00),
         (0.30,1.70),
         (0.60,1.50),(0.70,1.20),(0.80,0.90),(0.85,1.40),(0.90,0.60),(0.95,1.10),(1.00,0.40),(1.05,0.80),
         (1.10,0.20),(1.15,0.60),(1.20,1.00),(1.25,0.30),(1.30,0.70),(1.35,0.10),(1.40,0.50),(1.45,0.90),
         (1.50,0.30),(1.55,0.70),(1.60,0.10),(1.65,0.50),(1.70,0.90),(1.75,0.30),(1.80,0.60),(1.90,1.00),
         (2.00,0.40),(0.40,0.80),(0.50,0.30),(0.30,0.10),
         (1.80,1.50),(1.90,1.80),(2.00,1.60),(2.10,2.00),(2.20,1.80),(2.30,2.20),(2.40,1.90),(2.50,2.40),
         (2.60,2.10),(2.70,2.60),(2.80,2.40),(2.90,2.90),(3.00,2.60),(3.10,3.10),(3.20,2.80),(3.30,3.20),
         (3.40,3.00),(3.50,3.40),(3.60,3.20),(3.70,3.70),(3.80,3.40),(3.90,3.90),(4.00,3.60),(4.10,4.00),
         (4.20,3.80),(4.30,4.20),(4.40,3.90),(4.50,4.30),(4.60,4.00),(4.70,4.40),(4.80,4.20),(4.90,4.60),
         (5.00,4.40),(5.10,4.80),(5.20,4.60),(5.30,5.00),(5.40,4.80),(5.50,5.20),(3.60,4.00),(3.80,3.80),
         (4.00,4.30),(4.10,3.50),(3.50,3.90),(4.60,4.60),(2.40,1.40),(2.90,2.20),
         (5.50,5.80),(5.60,5.40),(5.65,6.10),(5.70,5.60),(5.75,5.90),(5.80,5.30),(5.85,5.70),(5.90,6.00),
         (5.95,5.50),(6.00,5.80),(6.05,6.20),(6.10,5.60),(6.15,5.90),(6.20,5.40),(6.25,6.00),(5.30,5.90),
         (5.00,6.10),(4.80,5.40),
         (2.20,0.30),(2.60,0.10),(3.00,0.50),(3.40,0.20),(3.90,0.10),(4.30,0.40),(4.80,0.20),(5.30,0.10),
         (5.70,0.30),(6.10,0.20),(6.20,0.40),(2.50,6.10),(3.00,5.80),(3.50,6.20),(4.00,5.90),(4.50,6.10),
         (2.20,5.50),(2.80,4.80),(3.20,4.20),(1.50,3.40),(1.80,4.20),(2.50,3.50),(3.50,1.30),(4.00,2.00),
         (4.50,1.00),(5.00,2.80),(5.50,1.50),(6.00,2.50),(6.10,1.00),(5.80,3.60),(1.20,2.60),(1.00,3.80),
         (0.05,5.40),(0.10,5.90),(0.15,5.30),(0.20,5.70),(0.25,5.10),(0.30,6.00),(0.35,5.50),(0.40,5.80),
         (0.45,5.20),(0.50,6.10),(0.55,5.50),(0.60,5.70),(0.65,5.20),(0.70,5.60),(0.75,6.00),(0.80,5.10),
         (0.85,5.50),(0.95,5.70),(1.05,5.20),(1.15,5.50),(1.25,5.00),(1.35,6.10),(1.50,5.60),(1.70,5.80),
         (0.20,4.90),(0.05,4.30),(0.40,4.00),
         (0.50,1.20),(0.55,0.70),(0.65,0.90),(0.75,0.60),(0.80,1.30),(0.85,0.30),(0.90,1.00),(0.95,0.20),
         (1.00,0.70),(1.05,1.10),(1.10,0.50),(1.15,0.90),(1.20,0.30),(1.25,0.60),(1.30,1.10),(1.35,0.40),
         (1.40,0.80),(1.45,0.20),(1.50,0.60),(1.55,1.00),(1.60,0.40),(1.65,0.80),(1.70,0.20),(1.75,0.70),
         (1.85,0.40),(1.95,0.80),(2.05,1.20),(2.10,0.60),(0.35,0.50),(0.20,1.00),(0.15,0.20),
         (1.95,1.70),(2.05,1.90),(2.15,1.70),(2.25,2.00),(2.35,2.10),(2.45,2.20),(2.55,2.30),(2.65,2.40),
         (2.75,2.50),(2.85,2.70),(2.95,2.70),(3.05,2.90),(3.15,3.00),(3.25,3.00),(3.35,3.30),(3.45,3.20),
         (3.55,3.60),(3.65,3.50),(3.75,3.90),(3.85,3.60),(3.95,4.10),(4.05,3.80),(4.15,4.20),(4.25,3.90),
         (4.35,4.10),(4.45,4.20),(4.55,4.50),(4.65,4.20),(4.75,4.60),(4.85,4.40),(4.95,4.80),(5.05,4.60),
         (5.15,5.00),(5.25,4.80),(5.35,5.20),(5.45,5.00),
         (5.55,6.00),(5.60,5.70),(5.70,6.20),(5.75,5.40),(5.80,6.00),(5.85,5.50),(5.90,5.80),(5.95,6.10),
         (6.00,5.40),(6.05,5.70),(6.10,6.10),(6.15,5.50),(6.20,5.80),(6.25,5.60),(5.50,5.50),(5.40,5.70),
         (2.40,0.10),(2.80,0.40),(3.20,0.10),(3.60,0.40),(4.10,0.20),(4.60,0.10),(5.00,0.40),(5.50,0.20),
         (5.90,0.10),(6.20,0.10),(2.00,6.20),(2.30,5.90),(2.70,6.20),(3.20,6.00),(3.80,6.20),(4.20,6.10),
         (4.70,5.90),(3.10,5.10),(2.60,4.30),(2.10,3.00),(1.40,4.60),(4.40,2.70),(5.20,3.50),(5.60,2.20),
         (6.10,3.10),(3.00,1.60),(4.70,1.70),(6.20,1.60)]

letters = list('abcdefghijklmnopqr')
cscores = [0.78, 0.74, 0.84, 0.82, 0.89, 0.91, 0.87, 0.93, 0.95,
           0.64, 0.58, 0.54, 0.72, 0.61, 0.59, 0.81, 0.75, 0.70]
panels = [pts_a, pts_b, pts_c, pts_d, pts_e, pts_f, pts_g, pts_h, pts_i,
          pts_j, pts_k, pts_l, pts_m, pts_n, pts_o, pts_p, pts_q, pts_r]
block_titles = ['0.6', '0.9']

# ---- layout (pixels) ----
W, H = 987, 1566
col_left = [65, 400, 735]
row_bottom = [232, 469, 706, 1039, 1275, 1510]
ax_w, ax_h = 250, 132
ink = '#262626'

fig = plt.figure(figsize=(W / 100, H / 100), dpi=100)

for i, pts in enumerate(panels):
    r, c = divmod(i, 3)
    ax = fig.add_axes([col_left[c] / W, 1 - row_bottom[r] / H, ax_w / W, ax_h / H])
    x, y = zip(*pts)
    ax.scatter(x, y, s=30, c='blue', linewidths=0, clip_on=False, zorder=3)
    ax.set_xlim(0, 2 * np.pi)
    ax.set_ylim(0, 2 * np.pi)
    ax.set_xticks([0, 2, 4, 6])
    ax.set_yticks([0, 2, 4, 6])
    ax.tick_params(direction='in', top=True, right=True, length=4, width=1,
                   labelsize=14.5, colors=ink, pad=5)
    for s in ax.spines.values():
        s.set_linewidth(1.4)
        s.set_color(ink)
    ax.set_title(f'C-score = {cscores[i]:.2f}', fontsize=15, color=ink, pad=12)
    ax.set_xlabel(r'original $\theta$', fontsize=15.5, color='black', labelpad=3)
    ax.set_ylabel(r'inferred $\theta$', fontsize=15.5, color='black', labelpad=8)
    fig.text((col_left[c] - 54) / W, 1 - (row_bottom[r] - ax_h - 32) / H, letters[i],
             fontsize=30, ha='left', va='baseline')

fig.text(525 / W, 1 - 32 / H, 'RA-ncMCE-EA   $T$=' + block_titles[0],
         fontsize=23, ha='center', va='baseline')
fig.text(525 / W, 1 - 835 / H, 'RA-ncMCE-EA   $T$=' + block_titles[1],
         fontsize=23, ha='center', va='baseline')

fig.savefig('out.png', dpi=100)
